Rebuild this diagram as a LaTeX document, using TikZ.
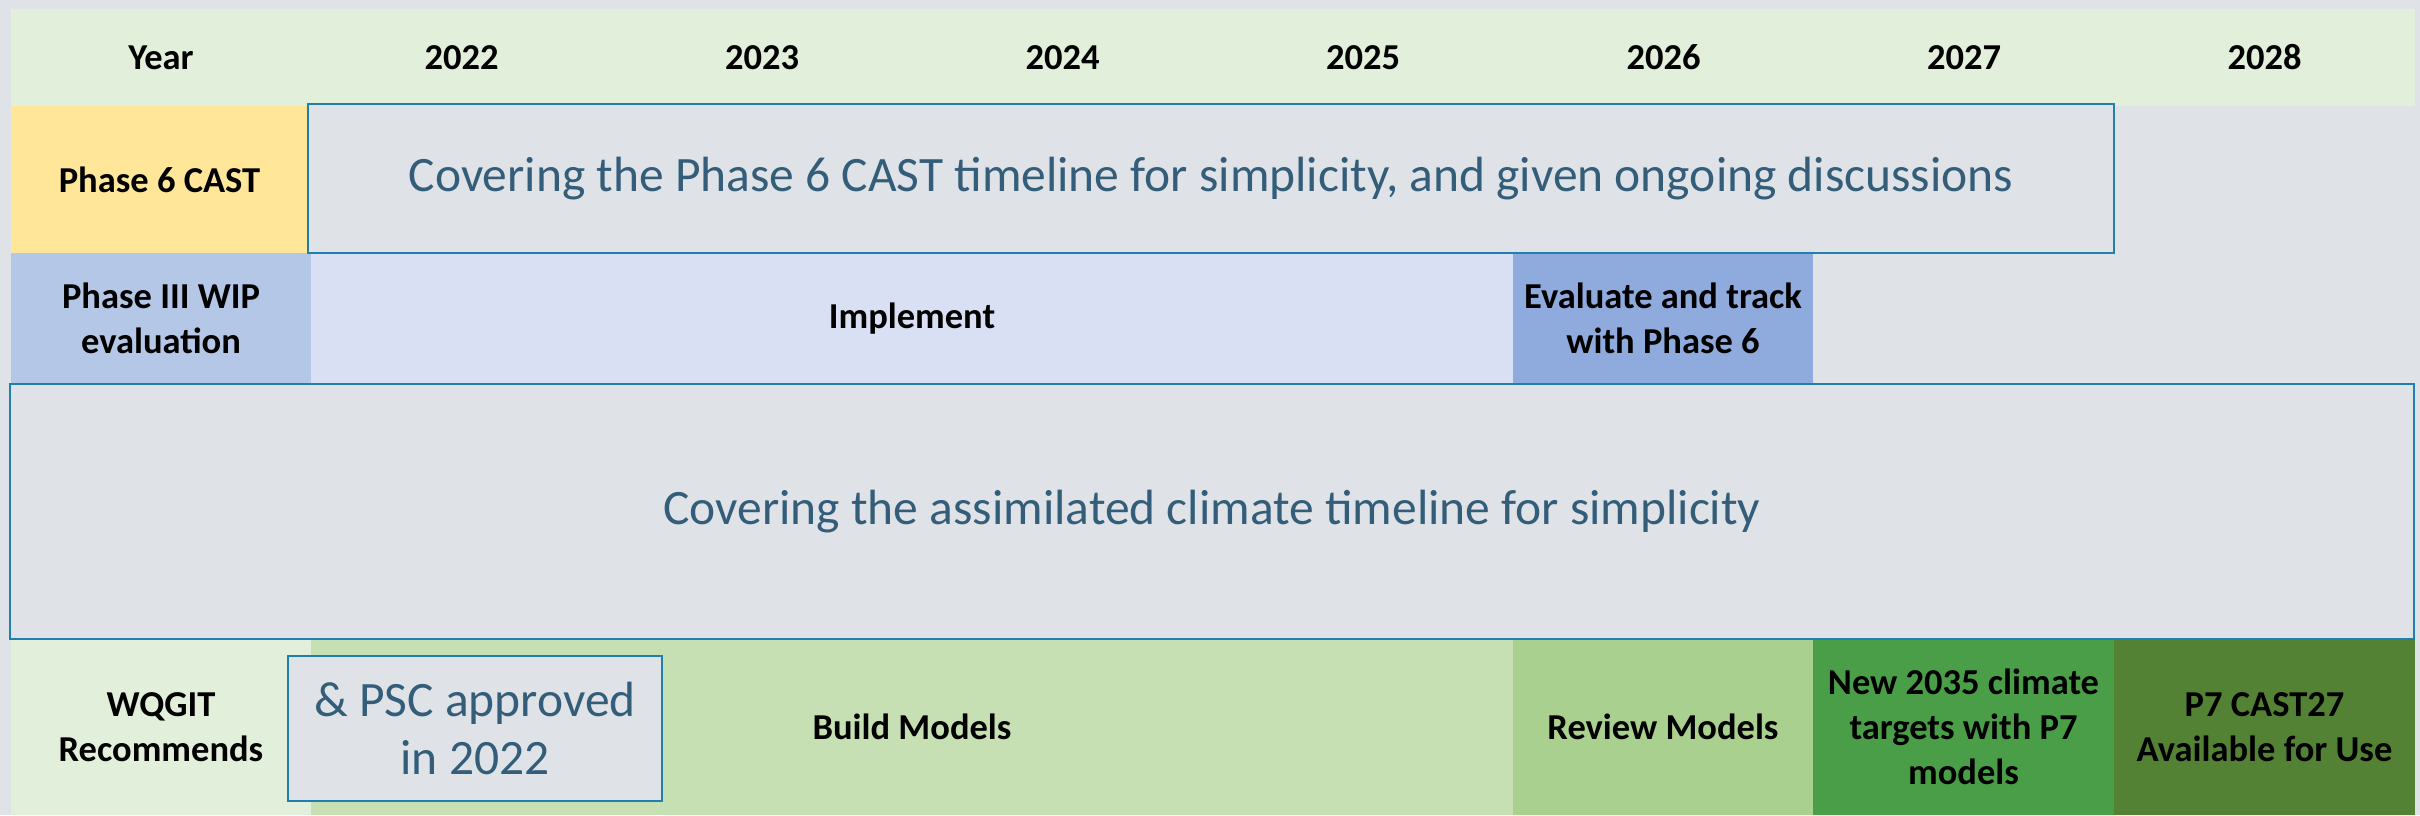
\documentclass[tikz,border=0pt]{standalone}
\usepackage{fontspec}
\setmainfont{Carlito}
\definecolor{bg}{HTML}{DFE3E7}
\definecolor{hdr}{HTML}{E2EFDA}
\definecolor{yel}{HTML}{FFE699}
\definecolor{blueA}{HTML}{B4C7E7}
\definecolor{blueB}{HTML}{DAE0F3}
\definecolor{blueC}{HTML}{8FAADC}
\definecolor{grnA}{HTML}{C6E0B4}
\definecolor{grnB}{HTML}{A9D08E}
\definecolor{grnC}{HTML}{4A9E48}
\definecolor{grnD}{HTML}{548235}
\definecolor{bord}{HTML}{1F7FAE}
\definecolor{txtc}{HTML}{335D79}
\tikzset{
  cell/.style={rectangle, inner sep=0pt, outer sep=0pt, draw=none, align=center,
    font=\fontsize{36.5}{45}\selectfont\bfseries},
  lbl/.style={inner sep=0pt, font=\fontsize{36.5}{45}\selectfont\bfseries},
  note/.style={rectangle, inner sep=0pt, outer sep=0pt, draw=bord, line width=2.7pt,
    fill=bg, align=center, text=txtc, font=\fontsize{49.5}{58}\selectfont},
}
\begin{document}
\begin{tikzpicture}[x=1pt,y=-1pt]
\fill[bg] (0,0) rectangle (2420,815);
\useasboundingbox (0,0) rectangle (2420,815);
% header
\node[cell, fill=hdr, minimum width=2404pt, minimum height=97pt] (hdr) at (1213,57.5) {};
\foreach \t [count=\i from 0] in {Year,2022,2023,2024,2025,2026,2027,2028}
  \node[lbl] (y\i) at (161+300.5*\i,57.5) {\t};
% row 2
\node[cell, fill=yel, minimum width=297pt, minimum height=147pt] (p6) at (159.5,179.5) {Phase 6 CAST};
% row 3
\node[cell, fill=blueA, minimum width=300pt, minimum height=131pt] (p3) at (161,318.5) {Phase III WIP\\evaluation};
\node[cell, fill=blueB, minimum width=1202pt, minimum height=131pt] (impl) at (912,318.5) {Implement};
\node[cell, fill=blueC, minimum width=300pt, minimum height=131pt] (eval) at (1663,318.5) {Evaluate and track\\with Phase 6};
% row 5
\node[cell, fill=hdr, minimum width=300pt, minimum height=176pt] (wq) at (161,727) {WQGIT\\Recommends};
\node[cell, fill=grnA, minimum width=1202pt, minimum height=176pt] (build) at (912,727) {Build Models};
\node[cell, fill=grnB, minimum width=300pt, minimum height=176pt] (rev) at (1663,727) {Review Models};
\node[cell, fill=grnC, minimum width=301pt, minimum height=176pt] (new) at (1963.5,727) {New 2035 climate\\targets with P7\\models};
\node[cell, fill=grnD, minimum width=301pt, minimum height=176pt] (p7) at (2264.5,727) {P7 CAST27\\Available for Use};
% notes
\node[note, minimum width=1806pt, minimum height=149pt] (n1) at (1211,178.5) {Covering the Phase 6 CAST timeline for simplicity, and given ongoing discussions};
\node[note, minimum width=2404pt, minimum height=255pt] (n2) at (1212,511.5) {Covering the assimilated climate timeline for simplicity};
\node[note, minimum width=374pt, minimum height=145pt] (n3) at (475,728.5) {\& PSC approved\\in 2022};
\end{tikzpicture}
\end{document}
